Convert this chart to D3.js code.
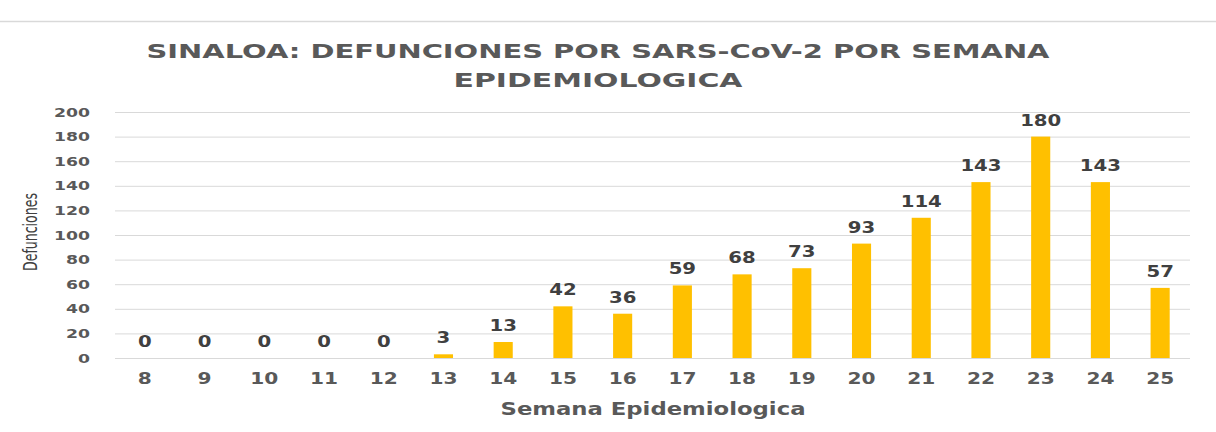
<!DOCTYPE html>
<html>
<head>
<meta charset="utf-8">
<script src="https://cdn.jsdelivr.net/npm/d3@7"></script>
<style>
  body { margin: 0; background: #fff; }
</style>
</head>
<body>
<div id="chart"></div>
<script>
const weeks = ["8", "9", "10", "11", "12", "13", "14", "15", "16", "17", "18", "19", "20", "21", "22", "23", "24", "25"];
const deaths = [0, 0, 0, 0, 0, 3, 13, 42, 36, 59, 68, 73, 93, 114, 143, 180, 143, 57];
const yTicks = [0, 20, 40, 60, 80, 100, 120, 140, 160, 180, 200];

const width = 1216;
const height = 432;
const margin = { top: 112, right: 26, bottom: 74, left: 115 };

const svg = d3.select("#chart")
  .append("svg")
  .attr("width", width)
  .attr("height", height);

// the digits in the original are much wider than DejaVu, so stretch them
function widen(sel, perChar) {
  sel.each(function () {
    const t = d3.select(this);
    t.attr("textLength", t.text().length * perChar)
      .attr("lengthAdjust", "spacingAndGlyphs");
  });
}

// thin separator line at the top
svg.append("line")
  .attr("x1", 0).attr("x2", width)
  .attr("y1", 21.5).attr("y2", 21.5)
  .style("stroke", "#d9d9d9")
  .style("stroke-width", 1.5);

const x = d3.scaleBand()
  .domain(weeks)
  .range([margin.left, width - margin.right])
  .paddingInner(0.68)
  .paddingOuter(0.34);

const y = d3.scaleLinear()
  .domain([0, 200])
  .range([height - margin.bottom, margin.top]);

// gridlines
svg.append("g")
  .selectAll("line")
  .data(yTicks)
  .join("line")
  .attr("x1", margin.left)
  .attr("x2", width - margin.right)
  .attr("y1", d => y(d) + 0.5)
  .attr("y2", d => y(d) + 0.5)
  .style("stroke", "#d9d9d9")
  .style("stroke-width", 1);

// y axis labels
const yAxis = d3.axisLeft(y).tickValues(yTicks).tickSize(0).tickPadding(0);
svg.append("g")
  .attr("transform", `translate(${margin.left - 25}, 0)`)
  .call(yAxis)
  .call(g => g.select(".domain").remove())
  .selectAll("text")
  .style("font-family", "DejaVu Sans")
  .style("font-weight", "bold")
  .style("font-size", "13px")
  .style("fill", "#595959")
  .call(widen, 12);

// x axis labels
const xAxis = d3.axisBottom(x).tickSize(0).tickPadding(0);
svg.append("g")
  .attr("transform", `translate(0, ${y(0) + 15})`)
  .call(xAxis)
  .call(g => g.select(".domain").remove())
  .selectAll("text")
  .style("font-family", "DejaVu Sans")
  .style("font-weight", "bold")
  .style("font-size", "16px")
  .style("fill", "#595959")
  .call(widen, 14);

// bars
svg.append("g")
  .selectAll("rect")
  .data(deaths)
  .join("rect")
  .attr("x", (d, i) => x(weeks[i]))
  .attr("y", d => y(d))
  .attr("width", x.bandwidth())
  .attr("height", d => y(0) - y(d))
  .style("fill", "#ffc000");

// data labels
svg.append("g")
  .selectAll("text")
  .data(deaths)
  .join("text")
  .attr("x", (d, i) => x(weeks[i]) + x.bandwidth() / 2)
  .attr("y", d => y(d) - 11)
  .attr("text-anchor", "middle")
  .style("font-family", "DejaVu Sans")
  .style("font-weight", "bold")
  .style("font-size", "15px")
  .style("fill", "#404040")
  .text(d => d)
  .call(widen, 13.7);

// title
const title = svg.append("text")
  .attr("text-anchor", "middle")
  .style("font-family", "DejaVu Sans")
  .style("font-weight", "bold")
  .style("font-size", "20px")
  .style("fill", "#595959");
title.append("tspan").attr("x", 598).attr("y", 58)
  .attr("textLength", 903).attr("lengthAdjust", "spacingAndGlyphs")
  .text("SINALOA: DEFUNCIONES POR SARS-CoV-2 POR SEMANA");
title.append("tspan").attr("x", 598).attr("y", 87)
  .attr("textLength", 289).attr("lengthAdjust", "spacingAndGlyphs")
  .text("EPIDEMIOLOGICA");

// axis titles
svg.append("text")
  .attr("x", 653)
  .attr("y", 415)
  .attr("text-anchor", "middle")
  .attr("textLength", 305)
  .attr("lengthAdjust", "spacingAndGlyphs")
  .style("font-family", "DejaVu Sans")
  .style("font-weight", "bold")
  .style("font-size", "18px")
  .style("fill", "#595959")
  .text("Semana Epidemiologica");

svg.append("text")
  .attr("transform", "translate(37, 232) rotate(-90)")
  .attr("text-anchor", "middle")
  .attr("textLength", 78)
  .attr("lengthAdjust", "spacingAndGlyphs")
  .style("font-family", "DejaVu Sans Condensed, sans-serif")
  .style("font-size", "19px")
  .style("fill", "#404040")
  .text("Defunciones");
</script>
</body>
</html>
